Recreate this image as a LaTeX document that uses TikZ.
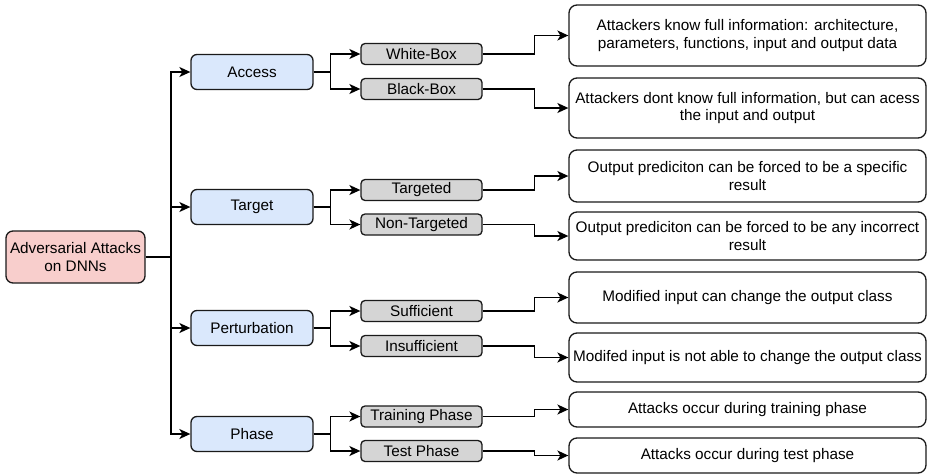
\documentclass[tikz,border=0pt]{standalone}
\usepackage{fontspec}
\setmainfont{Liberation Sans}
\usetikzlibrary{arrows.meta}
\definecolor{rootfill}{HTML}{F8CECC}
\definecolor{bluefill}{HTML}{DAE8FC}
\definecolor{grayfill}{HTML}{D5D5D5}
\definecolor{strokec}{HTML}{1A1A1A}
\tikzset{
  base/.style={draw=strokec, line width=1.3pt, align=center, inner sep=1pt,
    font=\fontsize{15.3}{17.5}\selectfont, text=black},
  rootbox/.style={base, fill=rootfill, rounded corners=7pt, minimum width=139pt, minimum height=52pt},
  catbox/.style={base, fill=bluefill, rounded corners=6pt, minimum width=122pt, minimum height=35pt},
  subbox/.style={base, fill=grayfill, rounded corners=4pt, minimum width=121pt, minimum height=21pt},
  descbox/.style={base, fill=white, rounded corners=8pt, minimum width=357pt},
  conn/.style={draw=black, line width=1.4pt, -{Stealth[length=11pt,width=10pt,inset=3pt]}},
  plain/.style={draw=black, line width=1.4pt}
}
\begin{document}
\begin{tikzpicture}[x=1pt,y=-1pt]
\useasboundingbox (0,0) rectangle (927,474);
% root
\node[rootbox] (root) at (75.5,257) {Adversarial Attacks\\on DNNs};
% categories
\node[catbox] (access) at (252,72) {Access};
\node[catbox] (target) at (252,207) {Target};
\node[catbox] (pert) at (252,328) {Perturbation};
\node[catbox] (phase) at (252,434) {Phase};
% sub
\node[subbox] (wb) at (421.5,54) {White-Box};
\node[subbox] (bb) at (421.5,89) {Black-Box};
\node[subbox] (tg) at (421.5,190) {Targeted};
\node[subbox] (nt) at (421.5,224.5) {Non-Targeted};
\node[subbox] (su) at (421.5,311) {Sufficient};
\node[subbox] (in) at (421.5,346) {Insufficient};
\node[subbox] (tr) at (421.5,416.5) {Training Phase};
\node[subbox] (te) at (421.5,451) {Test Phase};
% descriptions
\node[descbox, minimum height=61pt] (d1) at (747.5,35.5) {Attackers know full information: architecture,\\parameters, functions, input and output data};
\node[descbox, minimum height=60pt] (d2) at (747.5,108) {Attackers dont know full information, but can acess\\the input and output};
\node[descbox, minimum height=52pt] (d3) at (747.5,176) {Output prediciton can be forced to be a specific\\result};
\node[descbox, minimum height=48pt] (d4) at (747.5,236) {Output prediciton can be forced to be any incorrect\\result};
\node[descbox, minimum height=51pt] (d5) at (747.5,297.5) {Modified input can change the output class};
\node[descbox, minimum height=49pt] (d6) at (747.5,357.5) {Modifed input is not able to change the output class};
\node[descbox, minimum height=35pt] (d7) at (747.5,409.5) {Attacks occur during training phase};
\node[descbox, minimum height=35pt] (d8) at (747.5,455.5) {Attacks occur during test phase};
% root to categories
\coordinate (trunk) at (171,257);
\draw[plain] (root.east) -- (trunk);
\foreach \c in {access,target,pert,phase}{
  \draw[conn] (trunk) |- (\c.west);
}
% categories to subs
\foreach \c/\a/\b in {access/wb/bb, target/tg/nt, pert/su/in, phase/tr/te}{
  \draw[conn] (\c.east) -- ++(17,0) |- (\a.west);
  \draw[conn] (\c.east) -- ++(17,0) |- (\b.west);
}
% subs to descriptions
\foreach \s/\d in {wb/d1, bb/d2, tg/d3, nt/d4, su/d5, in/d6, tr/d7, te/d8}{
  \draw[conn] (\s.east) -- ++(52,0) |- (\d.west);
}
\end{tikzpicture}
\end{document}
